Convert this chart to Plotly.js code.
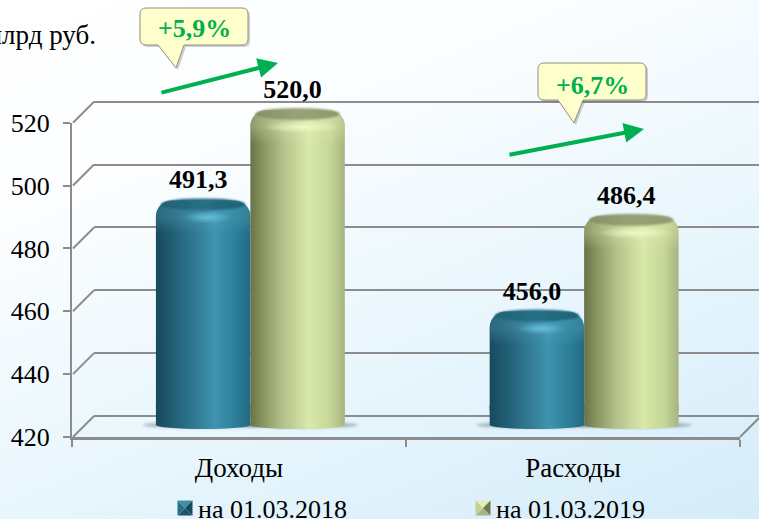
<!DOCTYPE html>
<html><head><meta charset="utf-8">
<script src="https://cdn.plot.ly/plotly-3.0.1.min.js"></script>
<style>
html,body{margin:0;padding:0;width:759px;height:519px;overflow:hidden;
background:linear-gradient(158deg,#ffffff 0%,#fbfdff 28%,#eaf7fd 60%,#d4ecf9 100%);}
#c{width:759px;height:519px;}
</style></head><body><div id="c"></div>
<script>
var categories = ['Доходы','Расходы'];
var seriesNames = ['на 01.03.2018','на 01.03.2019'];
var values2018 = [491.3,456.0];
var values2019 = [520.0,486.4];
var labels2018 = ['491,3','456,0'];
var labels2019 = ['520,0','486,4'];
var tickValues = [420,440,460,480,500,520];
var axisBase = 420;
var W=759,H=519;
function px(x){return x/W;}
function py(y){return 1-y/H;}
var GRAY='#8c8c8c', SERIF='"Liberation Serif","Times New Roman",serif', GREEN='#00b050';

function yDom(top,bottom){return [py(bottom),py(top)];}
function xDom(a,b){return [px(a),px(b)];}

var common={type:'category',range:[-0.5,1.5],fixedrange:true};
var layout={
 width:W,height:H,margin:{l:0,r:0,t:0,b:0,autoexpand:false},autosize:false,
 paper_bgcolor:'rgba(0,0,0,0)',plot_bgcolor:'rgba(0,0,0,0)',
 font:{family:SERIF,size:26,color:'#000'},
 barmode:'group',bargap:0.434,bargroupgap:0,
 showlegend:true,
 legend:{orientation:'h',x:px(158),y:py(508),xanchor:'left',yanchor:'middle',
   entrywidth:253,entrywidthmode:'pixels',bgcolor:'rgba(0,0,0,0)',
   font:{family:SERIF,size:26,color:'#000'},itemclick:false,itemdoubleclick:false},
 // front plane: axis lines, ticks and tick labels
 xaxis:Object.assign({},common,{domain:xDom(72,740),anchor:'y',showgrid:false,zeroline:false,
   showline:true,linecolor:GRAY,linewidth:3,ticks:'outside',tickson:'boundaries',ticklen:7,tickwidth:2,tickcolor:GRAY,
   tickfont:{family:SERIF,size:27,color:'#000'},ticklabelstandoff:5}),
 yaxis:{domain:yDom(122.7,437),range:[420,520],anchor:'x',tickvals:tickValues,ticktext:tickValues.map(String),
   showgrid:false,zeroline:false,showline:true,linecolor:GRAY,linewidth:2,ticks:'outside',ticklen:7,tickwidth:2,tickcolor:GRAY,
   tickfont:{family:SERIF,size:26,color:'#000'},ticklabelstandoff:8,fixedrange:true},
 // back wall: gridlines (range padded by one unit so the end lines are drawn)
 xaxis2:Object.assign({},common,{domain:xDom(94,759),anchor:'y2',visible:false}),
 yaxis2:{domain:yDom(101.7-3.143,416+3.143),range:[419,521],anchor:'x2',tickvals:tickValues,showticklabels:false,ticks:'',
   showgrid:true,gridcolor:GRAY,gridwidth:2,zeroline:false,showline:false,fixedrange:true},
 // mid-depth plane: the columns (range padded so feet and shadows are not clipped)
 xaxis3:Object.assign({},common,{domain:xDom(83.5,751),anchor:'y3',visible:false}),
 yaxis3:{domain:yDom(110-2*3.15,425+4*3.15),range:[416,522],anchor:'x3',visible:false,fixedrange:true},
 shapes:[],
 annotations:[
  {xref:'paper',yref:'paper',x:px(98),y:py(35),xanchor:'right',yanchor:'middle',showarrow:false,text:'млрд руб.',font:{family:SERIF,size:27,color:'#000'}},
  {xref:'paper',yref:'paper',x:px(194),y:py(29),xanchor:'center',yanchor:'middle',showarrow:false,text:'<b>+5,9%</b>',font:{family:SERIF,size:26,color:GREEN}},
  {xref:'paper',yref:'paper',x:px(592),y:py(86),xanchor:'center',yanchor:'middle',showarrow:false,text:'<b>+6,7%</b>',font:{family:SERIF,size:26,color:GREEN}},
  {xref:'paper',yref:'paper',x:px(278),y:py(63),axref:'pixel',ayref:'pixel',ax:-118,ay:30,text:'',showarrow:true,arrowhead:2,arrowsize:1,arrowwidth:4,arrowcolor:GREEN,standoff:0},
  {xref:'paper',yref:'paper',x:px(644),y:py(129),axref:'pixel',ayref:'pixel',ax:-136,ay:26,text:'',showarrow:true,arrowhead:2,arrowsize:1,arrowwidth:4,arrowcolor:GREEN,standoff:0}
 ]
};
// 3-D wall edges joining the front axis to the back wall
tickValues.forEach(function(v,i){
  var yf=437-(v-420)*3.143, yb=416-(v-420)*3.143;
  layout.shapes.push({type:'line',xref:'paper',yref:'paper',x0:px(73),y0:py(yf),x1:px(94),y1:py(yb),line:{color:GRAY,width:2},layer:'below'});
});
layout.shapes.push({type:'line',xref:'paper',yref:'paper',x0:px(740),y0:py(437),x1:px(761),y1:py(416),line:{color:GRAY,width:2},layer:'below'});
// callouts
function callout(x0,y0,x1,y1,t0,t1,tx,ty,dx,dy){
  var r=6;
  function P(x,y){return (px(x+dx)).toFixed(5)+','+(py(y+dy)).toFixed(5);}
  return 'M'+P(x0+r,y0)+' L'+P(x1-r,y0)+' Q'+P(x1,y0)+' '+P(x1,y0+r)+' L'+P(x1,y1-r)+' Q'+P(x1,y1)+' '+P(x1-r,y1)+
    ' L'+P(t1,y1)+' L'+P(tx,ty)+' L'+P(t0,y1)+' L'+P(x0+r,y1)+' Q'+P(x0,y1)+' '+P(x0,y1-r)+' L'+P(x0,y0+r)+' Q'+P(x0,y0)+' '+P(x0+r,y0)+' Z';
}
[[140,8,248,45,158,184,176,68],[538,63,646,100,558,583,574,123]].forEach(function(c){
  layout.shapes.push({type:'path',xref:'paper',yref:'paper',layer:'above',path:callout(c[0],c[1],c[2],c[3],c[4],c[5],c[6],c[7],2,2),fillcolor:'rgba(90,90,90,0.28)',line:{width:0}});
  layout.shapes.push({type:'path',xref:'paper',yref:'paper',layer:'above',path:callout(c[0],c[1],c[2],c[3],c[4],c[5],c[6],c[7],0,0),fillcolor:'#ffffcc',line:{color:'#8f8f80',width:1}});
});

var tf={family:SERIF,size:26,color:'#000'};
function above(v){return v-axisBase;}
var data=[
 {type:'scatter',mode:'lines',x:categories,y:values2018,xaxis:'x',yaxis:'y',opacity:0,showlegend:false,hoverinfo:'skip'},
 {type:'scatter',mode:'lines',x:categories,y:values2018,xaxis:'x2',yaxis:'y2',opacity:0,showlegend:false,hoverinfo:'skip'},
 {type:'bar',name:seriesNames[0],x:categories,y:values2018.map(above),base:axisBase,xaxis:'x3',yaxis:'y3',text:labels2018.map(function(s){return '<b>'+s+'</b>';}),
  textposition:'outside',textangle:0,constraintext:'none',cliponaxis:false,textfont:tf,marker:{color:'#2e7d98',line:{width:0},cornerradius:16},hoverinfo:'skip'},
 {type:'bar',name:seriesNames[1],x:categories,y:values2019.map(above),base:axisBase,xaxis:'x3',yaxis:'y3',text:labels2019.map(function(s){return '<b>'+s+'</b>';}),
  textposition:'outside',textangle:0,constraintext:'none',cliponaxis:false,textfont:tf,marker:{color:'#c8d898',line:{width:0},cornerradius:16},hoverinfo:'skip'}
];

var NS='http://www.w3.org/2000/svg';
function el(n,a,parent,before){var e=document.createElementNS(NS,n);for(var k in a)e.setAttribute(k,a[k]);if(parent){before?parent.insertBefore(e,before):parent.appendChild(e);}return e;}
function grad(defs,id,stops,attrs){
  var g=el(attrs.r?'radialGradient':'linearGradient',Object.assign({id:id},attrs),defs);
  stops.forEach(function(s){el('stop',{offset:s[0],'stop-color':s[1],'stop-opacity':s[2]==null?1:s[2]},g);});
}
Plotly.newPlot('c',data,layout,{displayModeBar:false}).then(function(gd){
  var svg=gd.querySelector('svg.main-svg');
  var defs=el('defs',{},svg,svg.firstChild);
  var h={x1:0,y1:0,x2:1,y2:0};
  grad(defs,'gBlue',[[0,'#174a5d'],[0.15,'#1f5a70'],[0.62,'#3f93af'],[0.85,'#2c7e98'],[1,'#226a82']],h);
  grad(defs,'gGreen',[[0,'#68724a'],[0.12,'#87925f'],[0.35,'#b5c28c'],[0.62,'#d9e9a9'],[0.85,'#c6d697'],[1,'#a6b37f']],h);
  grad(defs,'capBlue',[[0,'#1f6076'],[0.5,'#276f87'],[1,'#1f6076']],h);
  grad(defs,'capGreen',[[0,'#858f64'],[0.5,'#97a377'],[1,'#8d986b']],h);
  grad(defs,'hiBlue',[[0,'#66c0dc',0.95],[1,'#66c0dc',0]],{r:'0.5',cx:'0.5',cy:'0.5'});
  grad(defs,'hiGreen',[[0,'#eff9c6',0.95],[1,'#eff9c6',0]],{r:'0.5',cx:'0.5',cy:'0.5'});
  var f=el('filter',{id:'blur',x:'-20%',y:'-100%',width:'140%',height:'300%'},defs);
  el('feGaussianBlur',{stdDeviation:'1.6'},f);
  var f2=el('filter',{id:'soft',x:'-10%',y:'-50%',width:'120%',height:'200%'},defs);
  el('feGaussianBlur',{stdDeviation:'1'},f2);

  var traces=gd.querySelectorAll('.barlayer .trace.bars');
  var layer=traces[0].closest('.barlayer');
  traces.forEach(function(tr,ti){
    var blue=ti===0;
    tr.querySelectorAll('.point').forEach(function(pt){
      var p=pt.querySelector('path');
      var b=p.getBBox();
      var fillUrl='url(#'+(blue?'gBlue':'gGreen')+')';
      p.style.fill=fillUrl;
      var cx=b.x+b.width/2, w=b.width/2, bot=b.y+b.height, top=b.y;
      // floor shadow, below all the columns
      el('ellipse',{cx:cx,cy:bot,rx:w+13,ry:3,fill:'#5a6670',opacity:0.5,filter:'url(#blur)'},layer,layer.firstChild);
      // square off the lower corners, then add the rounded foot
      el('rect',{x:b.x,y:bot-20,width:b.width,height:20,fill:fillUrl},pt,p);
      el('ellipse',{cx:cx,cy:bot,rx:w,ry:4,fill:fillUrl},pt,p);
      // top shading: lit band under the cap
      var id='v'+ti+'_'+Math.round(b.x);
      var c=blue?'#5aaec8':'#e4f1b6';
      var g=el('linearGradient',{id:id,gradientUnits:'userSpaceOnUse',x1:0,y1:top,x2:0,y2:top+34},defs);
      el('stop',{offset:0,'stop-color':c,'stop-opacity':0.3},g);
      el('stop',{offset:0.5,'stop-color':c,'stop-opacity':0.3},g);
      el('stop',{offset:1,'stop-color':c,'stop-opacity':0},g);
      var q=p.cloneNode(false); q.style.fill='url(#'+id+')'; pt.appendChild(q);
      el('ellipse',{cx:cx,cy:top+4,rx:w-5,ry:6,fill:'url(#'+(blue?'capBlue':'capGreen')+')',filter:'url(#soft)'},pt);
      el('ellipse',{cx:cx+4,cy:top+17,rx:blue?24:38,ry:6,fill:'url(#'+(blue?'hiBlue':'hiGreen')+')'},pt);
    });
    // labels sit a little left of the column centre
    tr.querySelectorAll('.bartext').forEach(function(t){
      var o=t.getAttribute('transform')||'';
      t.setAttribute('transform','translate(-5,-3) '+o);
      t.parentNode.appendChild(t);
    });
  });
  // legend swatches with bevelled look
  gd.querySelectorAll('.legend .traces').forEach(function(tr,i){
    var p=tr.querySelector('.legendpoints path');
    if(!p)return;
    var b=p.getBBox(), par=p.parentNode, s=7.5;
    var cx=b.x+b.width/2+27, cy=b.y+b.height/2;
    var cols=i===0?['#1f5668','#3f8fa8','#2b6f86','#174a5d']:['#a8b282','#e3eeb8','#c4d096','#6e7850'];
    var tri=[[-s,-s,s,-s],[ -s,s,s,s],[-s,-s,-s,s],[s,-s,s,s]];
    var order=[cols[1],cols[0],cols[2],cols[3]];
    p.style.opacity=0;
    tri.forEach(function(t,k){
      el('polygon',{points:(cx+t[0])+','+(cy+t[1])+' '+(cx+t[2])+','+(cy+t[3])+' '+cx+','+cy,fill:order[k]},par);
    });
  });
});
</script></body></html>
